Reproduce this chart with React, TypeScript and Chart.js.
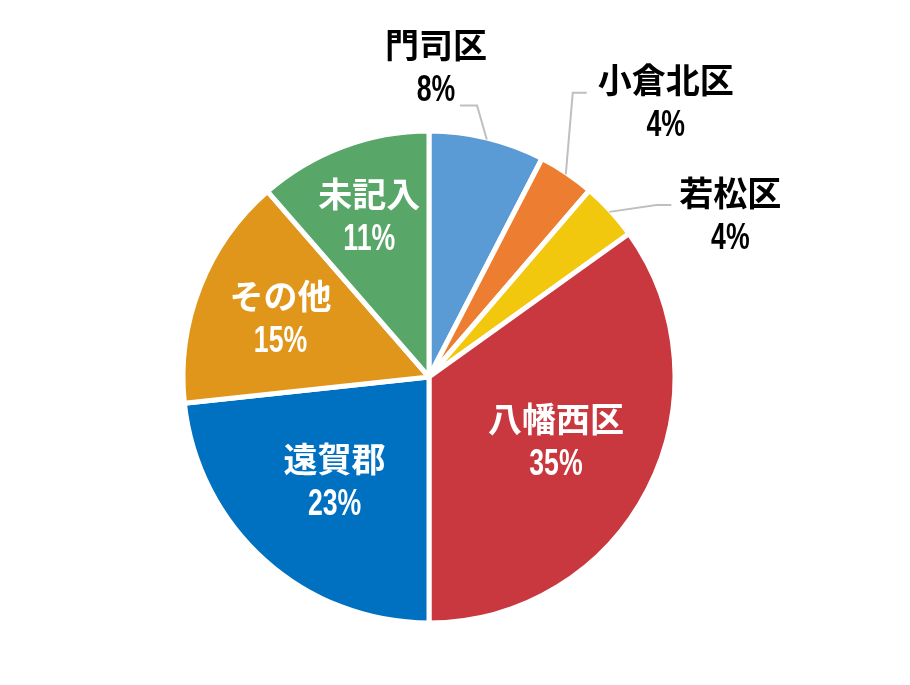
import React, { useEffect, useRef } from "react";
import { Chart, registerables } from "chart.js";

Chart.register(...registerables);

// ---- data ----
const categories = ["門司区", "小倉北区", "若松区", "八幡西区", "遠賀郡", "その他", "未記入"];
const shares = [7.6, 3.7, 3.8, 34.9, 23.3, 15.3, 11.4];
const sliceColors = ["#5B9BD5", "#ED7D31", "#F2C80F", "#C9383F", "#0070C0", "#E0961A", "#58A668"];

// ---- label placement (style config, relative to pie radius) ----
type Placement = {
  k: number; // distance as fraction of radius
  deg?: number; // fixed angle clockwise from top (outside labels); undefined => slice mid-angle
  leader?: { ax: number; ay: number; ex: number };
};
const placements: Placement[] = [
  { k: 1.271, deg: 1.3, leader: { ax: 24, ay: 38, ex: 17 } },
  { k: 1.488, deg: 40.8, leader: { ax: -79, ay: -10, ex: -14 } },
  { k: 1.403, deg: 61.9, leader: { ax: -59, ay: -11, ex: -15 } },
  { k: 0.586 },
  { k: 0.58 },
  { k: 0.655 },
  { k: 0.7 },
];

const NAME_FONT = 'bold 34px "Noto Sans CJK JP", sans-serif';
const PCT_FONT = 'bold 36px "Liberation Sans", "Noto Sans CJK JP", sans-serif';

const labelPlugin = {
  id: "pieLabels",
  afterDatasetsDraw(chart: any) {
    const ctx: CanvasRenderingContext2D = chart.ctx;
    const meta = chart.getDatasetMeta(0);
    const data: number[] = chart.data.datasets[0].data;
    const total = data.reduce((a, b) => a + b, 0);
    meta.data.forEach((arc: any, i: number) => {
      const { x, y, startAngle, endAngle, outerRadius } = arc.getProps(
        ["x", "y", "startAngle", "endAngle", "outerRadius"],
        true
      );
      const p = placements[i];
      const R = outerRadius - 2.5;
      const mid = (startAngle + endAngle) / 2;
      const ang = p.deg === undefined ? mid : (p.deg * Math.PI) / 180 - Math.PI / 2;
      const cx = x + Math.cos(ang) * p.k * R;
      const cy = y + Math.sin(ang) * p.k * R;
      const outside = !!p.leader;
      const color = outside ? "#000000" : "#FFFFFF";

      ctx.save();
      if (p.leader) {
        const sx = cx + p.leader.ax;
        const sy = cy + p.leader.ay;
        const exx = sx + p.leader.ex;
        const tx = x + Math.cos(mid) * (R + 1);
        const ty = y + Math.sin(mid) * (R + 1);
        ctx.strokeStyle = "#BFBFBF";
        ctx.lineWidth = 2;
        ctx.beginPath();
        ctx.moveTo(sx, sy);
        ctx.lineTo(exx, sy);
        ctx.lineTo(tx, ty);
        ctx.stroke();
      }
      ctx.fillStyle = color;
      ctx.textAlign = "center";
      ctx.textBaseline = "middle";
      ctx.font = NAME_FONT;
      ctx.fillText(categories[i], cx, cy - 23);
      const pct = Math.round((data[i] / total) * 100) + "%";
      ctx.translate(cx, cy + 23);
      ctx.scale(0.74, 1);
      ctx.font = PCT_FONT;
      ctx.fillText(pct, 0, 0);
      ctx.restore();
    });
  },
};

export default function App() {
  const canvasRef = useRef<HTMLCanvasElement | null>(null);

  useEffect(() => {
    document.body.style.margin = "0";
    const canvas = canvasRef.current;
    if (!canvas) return;
    const chart = new Chart(canvas, {
      type: "pie",
      data: {
        labels: categories,
        datasets: [
          {
            data: shares,
            backgroundColor: sliceColors,
            borderColor: "#FFFFFF",
            borderWidth: 5,
          },
        ],
      },
      options: {
        responsive: false,
        animation: false,
        radius: 246,
        layout: { padding: { left: 0, right: 52, top: 69, bottom: 0 } },
        plugins: {
          legend: { display: false },
          tooltip: { enabled: false },
        },
      },
      plugins: [labelPlugin],
    });
    return () => chart.destroy();
  }, []);

  return (
    <div style={{ width: 910, height: 685, background: "#FFFFFF" }}>
      <canvas ref={canvasRef} width={910} height={685} style={{ display: "block" }} />
    </div>
  );
}
